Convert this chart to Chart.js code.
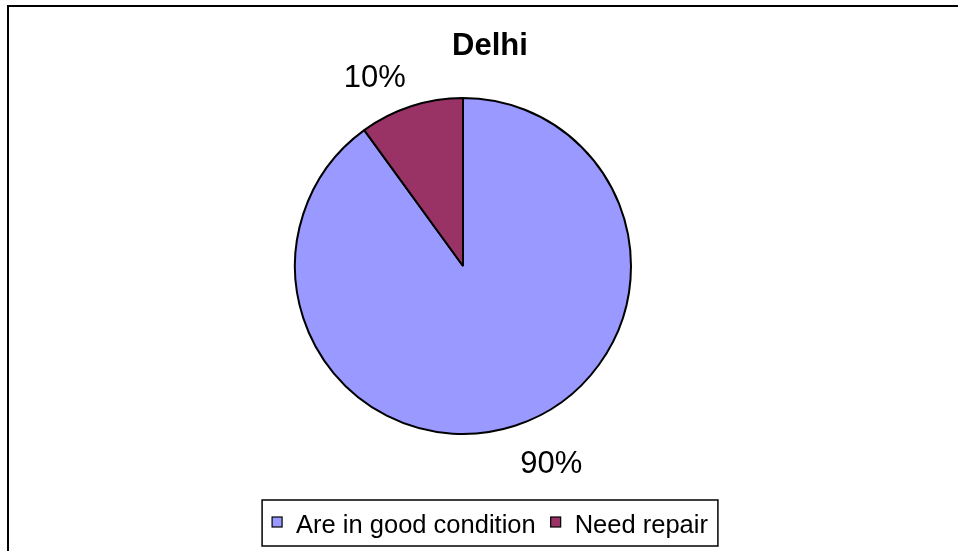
<!DOCTYPE html>
<html>
<head>
<meta charset="utf-8">
<title>Delhi</title>
<script src="https://cdn.jsdelivr.net/npm/chart.js@4.4.0/dist/chart.umd.min.js"></script>
<style>
    html, body { margin: 0; padding: 0; background: #ffffff; }
    #wrap { width: 958px; height: 551px; }
</style>
</head>
<body>
<div id="wrap"><canvas id="conditionChart" width="958" height="551"></canvas></div>
<script>
const chartTitle = 'Delhi';
const categories = ['Are in good condition', 'Need repair'];
const shares = [90, 10];
const sliceColors = ['#9999ff', '#993366'];

const FONT = '"Liberation Sans", Arial, Helvetica, sans-serif';

// white background plus the chart frame (runs off the right and bottom edge)
const framePlugin = {
    id: 'frame',
    beforeDraw(chart) {
        const c = chart.ctx;
        c.save();
        c.fillStyle = '#ffffff';
        c.fillRect(0, 0, chart.width, chart.height);
        c.strokeStyle = '#000000';
        c.lineWidth = 2;
        c.beginPath();
        c.moveTo(8, chart.height + 5);
        c.lineTo(8, 6);
        c.lineTo(chart.width + 5, 6);
        c.stroke();
        c.restore();
    }
};

// title, percentage labels and boxed legend
const textPlugin = {
    id: 'texts',
    afterDatasetsDraw(chart) {
        const c = chart.ctx;
        const midX = 490;
        c.save();
        c.fillStyle = '#000000';

        // title
        c.font = 'bold 31px ' + FONT;
        c.textAlign = 'center';
        c.textBaseline = 'alphabetic';
        c.fillText(chartTitle, midX, 55);

        // percentage labels outside each slice, text box pushed off the rim
        const values = chart.data.datasets[0].data;
        const total = values.reduce((a, b) => a + b, 0);
        const meta = chart.getDatasetMeta(0);
        c.font = '31px ' + FONT;
        meta.data.forEach((arc, i) => {
            const p = arc.getProps(['x', 'y', 'startAngle', 'endAngle', 'outerRadius'], true);
            const mid = (p.startAngle + p.endAngle) / 2;
            const dx = Math.cos(mid), dy = Math.sin(mid);
            const txt = Math.round(values[i] / total * 100) + '%';
            const hw = c.measureText(txt).width / 2;
            const hh = 17;
            const r = p.outerRadius + 17;
            const cx = p.x + dx * r + Math.sign(dx) * hw;
            const cy = p.y + dy * r + Math.sign(dy) * hh;
            c.fillText(txt, cx, cy + 14);
        });

        // legend
        c.font = '25.5px ' + FONT;
        c.textAlign = 'left';
        const box = 10, boxGap = 14, itemGap = 15, pad = 10;
        const labels = chart.data.labels;
        const widths = labels.map(l => c.measureText(l).width);
        let inner = 0;
        widths.forEach((w, i) => { inner += box + boxGap + w + (i > 0 ? itemGap : 0); });
        const left = midX - inner / 2 - pad;
        const top = 500, height = 46;
        c.strokeStyle = '#000000';
        c.lineWidth = 1.5;
        c.strokeRect(left, top, inner + pad * 2, height);

        let x = left + pad;
        const colors = chart.data.datasets[0].backgroundColor;
        labels.forEach((l, i) => {
            c.fillStyle = colors[i];
            c.fillRect(x, 517, box, box);
            c.lineWidth = 1.2;
            c.strokeStyle = '#000000';
            c.strokeRect(x, 517, box, box);
            c.fillStyle = '#000000';
            c.fillText(l, x + box + boxGap, 533);
            x += box + boxGap + widths[i] + itemGap;
        });
        c.restore();
    }
};

const ctx = document.getElementById('conditionChart').getContext('2d');
const conditionChart = new Chart(ctx, {
    type: 'pie',
    data: {
        labels: categories,
        datasets: [{
            data: shares,
            backgroundColor: sliceColors,
            borderColor: '#000000',
            borderWidth: 2
        }]
    },
    options: {
        responsive: false,
        animation: false,
        devicePixelRatio: 1,
        layout: {
            padding: { top: 97, left: 294, right: 326, bottom: 116 }
        },
        plugins: {
            legend: { display: false },
            title: { display: false },
            tooltip: { enabled: false }
        }
    },
    plugins: [framePlugin, textPlugin]
});
</script>
</body>
</html>
